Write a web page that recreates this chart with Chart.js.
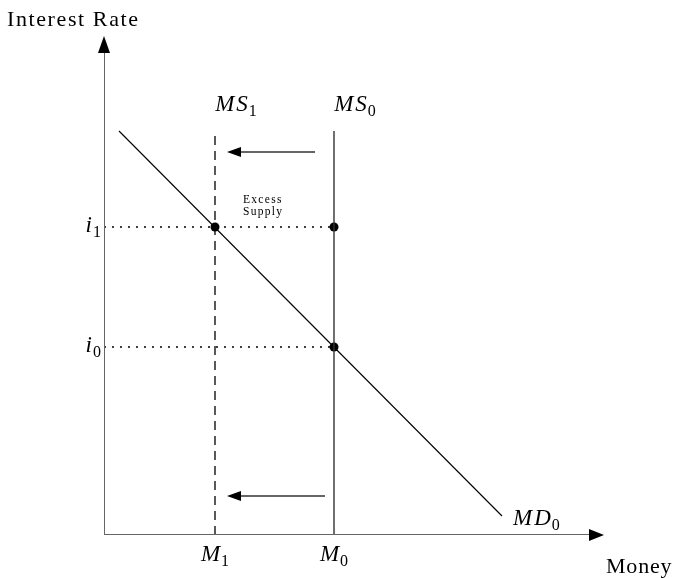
<!DOCTYPE html>
<html>
<head>
<meta charset="utf-8">
<script src="https://cdn.jsdelivr.net/npm/chart.js@4.4.1/dist/chart.umd.min.js"></script>
<style>
  html, body { margin: 0; padding: 0; background: #fff; }
  #wrap { width: 675px; height: 578px; }
</style>
</head>
<body>
<div id="wrap"><canvas id="chart"></canvas></div>
<script>
// quantities of money (x) and interest rates (y), in chart units
const moneyNames = ['M', 'M'];
const moneySubs = ['1', '0'];
const moneyValues = [111, 230];
const rateNames = ['i', 'i'];
const rateSubs = ['1', '0'];
const rateValues = [308, 188];
const supplyTop = 404;
const demandX = [15, 398];
const demandY = [404, 19];
const axisMax = [498, 497];
const arrowY = [383, 39];
const arrowFrom = [211, 221];
const arrowTo = 124;

const serif = '"Liberation Serif", "DejaVu Serif", serif';

function subText(ctx, x, y, name, sub, size, align) {
  ctx.letterSpacing = '2px';
  ctx.font = 'italic ' + size + 'px ' + serif;
  const w1 = ctx.measureText(name).width - 1;
  ctx.letterSpacing = '0px';
  ctx.font = Math.round(size * 0.7) + 'px ' + serif;
  const w2 = ctx.measureText(sub).width;
  let left = x;
  if (align === 'center') left = x - (w1 + w2) / 2;
  if (align === 'right') left = x - w1 - w2;
  ctx.textAlign = 'left';
  ctx.textBaseline = 'alphabetic';
  ctx.letterSpacing = '2px';
  ctx.font = 'italic ' + size + 'px ' + serif;
  ctx.fillText(name, left, y);
  ctx.letterSpacing = '0px';
  ctx.font = Math.round(size * 0.7) + 'px ' + serif;
  ctx.fillText(sub, left + w1, y + size * 0.2);
}

function arrowHead(ctx, x, y, dx, dy, len, half) {
  const px = -dy, py = dx;
  ctx.beginPath();
  ctx.moveTo(x, y);
  ctx.lineTo(x - dx * len + px * half, y - dy * len + py * half);
  ctx.lineTo(x - dx * len - px * half, y - dy * len - py * half);
  ctx.closePath();
  ctx.fill();
}

const annotate = {
  id: 'annotate',
  afterDatasetsDraw(chart) {
    const ctx = chart.ctx;
    const xs = chart.scales.x, ys = chart.scales.y;
    ctx.save();
    ctx.fillStyle = '#000';
    // axis arrow heads
    arrowHead(ctx, xs.getPixelForValue(axisMax[0]) + 2, ys.getPixelForValue(0), 1, 0, 15, 6);
    arrowHead(ctx, xs.getPixelForValue(0), ys.getPixelForValue(axisMax[1]) - 2, 0, -1, 17, 6);
    // shift arrow heads
    for (let k = 0; k < arrowY.length; k++) {
      arrowHead(ctx, xs.getPixelForValue(arrowTo) - 1, ys.getPixelForValue(arrowY[k]), -1, 0, 14, 5);
    }
    // axis titles
    ctx.font = '22px ' + serif;
    ctx.textAlign = 'left';
    ctx.textBaseline = 'alphabetic';
    ctx.letterSpacing = '1.6px';
    ctx.fillText('Interest Rate', 7, 26);
    ctx.letterSpacing = '0.8px';
    ctx.fillText('Money', 606, 573);
    // ticks
    for (let k = 0; k < moneyValues.length; k++) {
      subText(ctx, xs.getPixelForValue(moneyValues[k]), 561, moneyNames[k], moneySubs[k], 23, 'center');
      subText(ctx, xs.getPixelForValue(moneyValues[k]) + 21, 111, 'MS', moneySubs[k], 23, 'center');
    }
    for (let k = 0; k < rateValues.length; k++) {
      subText(ctx, 101, ys.getPixelForValue(rateValues[k]) + 5, rateNames[k], rateSubs[k], 23, 'right');
    }
    subText(ctx, xs.getPixelForValue(demandX[1]) + 11, 525, 'MD', '0', 23, 'left');
    ctx.font = '11.5px ' + serif;
    ctx.letterSpacing = '1.3px';
    ctx.textAlign = 'left';
    ctx.fillText('Excess', 243, 203);
    ctx.fillText('Supply', 243, 215);
    ctx.restore();
  }
};

const black = '#000';
const grey = '#666';

new Chart(document.getElementById('chart'), {
  type: 'scatter',
  data: {
    datasets: [
      { data: [{x: 0, y: 0}, {x: axisMax[0] - 12, y: 0}], showLine: true, borderColor: grey, borderWidth: 2, pointRadius: 0 },
      { data: [{x: 0, y: 0}, {x: 0, y: axisMax[1] - 14}], showLine: true, borderColor: grey, borderWidth: 2, pointRadius: 0 },
      { data: [{x: moneyValues[1], y: 0}, {x: moneyValues[1], y: supplyTop}], showLine: true, borderColor: '#333', borderWidth: 1.4, pointRadius: 0 },
      { data: [{x: moneyValues[0], y: 0}, {x: moneyValues[0], y: supplyTop}], showLine: true, borderColor: black, borderWidth: 1.3, borderDash: [9, 6], pointRadius: 0 },
      { data: [{x: demandX[0], y: demandY[0]}, {x: demandX[1], y: demandY[1]}], showLine: true, borderColor: black, borderWidth: 1.1, pointRadius: 0 },
      { data: [{x: 0, y: rateValues[0]}, {x: moneyValues[1], y: rateValues[0]}], showLine: true, borderColor: black, borderWidth: 1.4, borderDash: [2, 6], pointRadius: 0 },
      { data: [{x: 0, y: rateValues[1]}, {x: moneyValues[1], y: rateValues[1]}], showLine: true, borderColor: black, borderWidth: 1.4, borderDash: [2, 6], pointRadius: 0 },
      { data: [{x: arrowTo + 8, y: arrowY[0]}, {x: arrowFrom[0], y: arrowY[0]}], showLine: true, borderColor: '#333', borderWidth: 1.4, pointRadius: 0 },
      { data: [{x: arrowTo + 8, y: arrowY[1]}, {x: arrowFrom[1], y: arrowY[1]}], showLine: true, borderColor: '#333', borderWidth: 1.4, pointRadius: 0 },
      { data: [{x: moneyValues[0], y: rateValues[0]}, {x: moneyValues[1], y: rateValues[0]}, {x: moneyValues[1], y: rateValues[1]}],
        showLine: false, pointRadius: 4.5, pointBackgroundColor: black, pointBorderColor: black, pointBorderWidth: 0 }
    ]
  },
  options: {
    responsive: true,
    maintainAspectRatio: false,
    animation: false,
    layout: { padding: { left: 104, right: 71, top: 35, bottom: 43 } },
    plugins: { legend: { display: false }, tooltip: { enabled: false } },
    scales: {
      x: { type: 'linear', min: 0, max: 500, display: false },
      y: { type: 'linear', min: 0, max: 500, display: false }
    }
  },
  plugins: [annotate]
});
</script>
</body>
</html>
